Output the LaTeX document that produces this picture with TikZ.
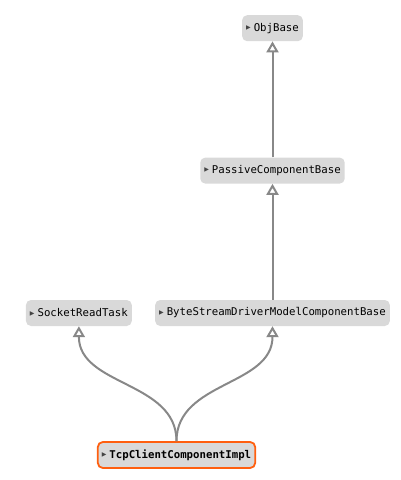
\documentclass[tikz,border=0pt]{standalone}
\usepackage{fontspec}
\setmonofont{DejaVu Sans Mono}
\newfontfamily\symfont{DejaVu Sans}
\usepackage{tikz}
\usetikzlibrary{arrows.meta,positioning}
\definecolor{boxgray}{HTML}{D9D9D9}
\definecolor{edgegray}{HTML}{888888}
\definecolor{hiorange}{HTML}{FF5F0F}
\definecolor{markgray}{HTML}{444444}
\newcommand{\clsname}[1]{\raisebox{1.8pt}{\symfont\fontsize{6}{6}\selectfont\textcolor{markgray}{▶}}\hspace{3pt}#1}

\begin{document}
\begin{tikzpicture}[x=1pt,y=-1pt,
  node distance=116pt and 23pt,
  cbox/.style={rectangle,rounded corners=5pt,fill=boxgray,minimum height=26pt,
    inner xsep=4pt,inner ysep=0pt,text=black,
    font=\ttfamily\fontsize{10.7}{12}\selectfont},
  focus/.style={cbox,draw=hiorange,line width=1.8pt,
    font=\ttfamily\bfseries\fontsize{10.7}{12}\selectfont},
  inherit/.style={-{Triangle[open,length=11pt,width=12pt]},line width=2pt,color=edgegray}
]
  \useasboundingbox (0,0) rectangle (400,480);
  \node[cbox] (bytestream) at (272.5,313) {\clsname{ByteStreamDriverModelComponentBase}};
  \node[cbox,above=of bytestream] (passive) {\clsname{PassiveComponentBase}};
  \node[cbox,above=of passive] (objbase) {\clsname{ObjBase}};
  \node[cbox,left=of bytestream] (socket) {\clsname{SocketReadTask}};
  \node[focus] (tcp) at (176.5,455) {\clsname{TcpClientComponentImpl}};

  \draw[inherit] (passive) -- (objbase);
  \draw[inherit] (bytestream) -- (passive);
  \draw[inherit] (tcp.north) .. controls +(0,-60) and +(0,60) .. (socket.south);
  \draw[inherit] (tcp.north) .. controls +(0,-60) and +(0,60) .. (bytestream.south);
\end{tikzpicture}
\end{document}
